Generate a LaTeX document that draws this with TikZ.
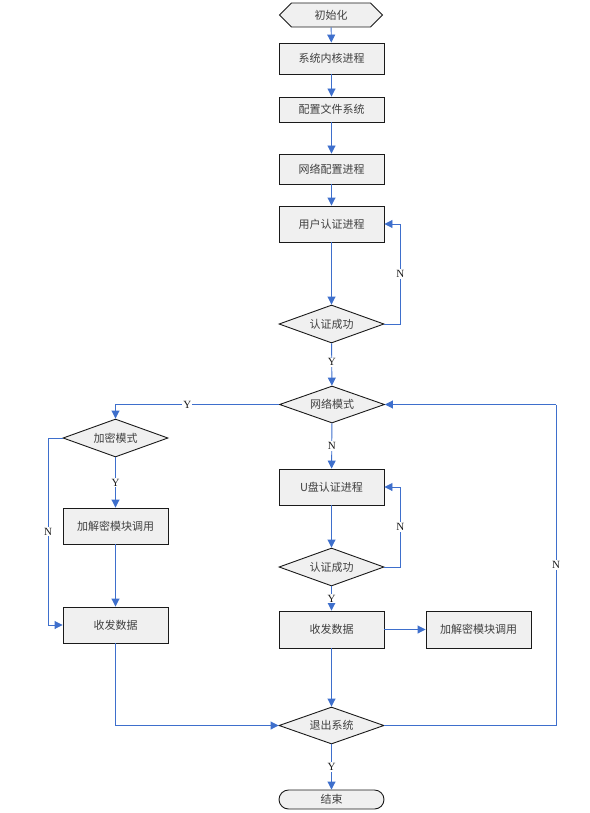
\documentclass[tikz,border=0pt]{standalone}
\usepackage{fontspec}
\setmainfont{Liberation Serif}
\newfontfamily\cjk{Noto Sans CJK SC}
\usepackage{tikz}
\definecolor{ink}{HTML}{1A1A1A}
\definecolor{txt}{HTML}{404040}
\definecolor{flowblue}{HTML}{3E6FCC}
\definecolor{boxfill}{HTML}{F0F0F0}
\usetikzlibrary{
  arrows.meta,
  positioning,
  shapes.geometric,
  shapes.symbols
}
\tikzset{
  every picture/.style={line join=miter},
  every node/.style={font=\fontsize{11}{12}\selectfont, text=txt},
  proc/.style={
    draw=ink,
    fill=boxfill,
    line width=0.9pt,
    minimum width=105pt,
    minimum height=32pt,
    inner sep=0pt,
    font=\cjk\fontsize{11}{12}\selectfont
  },
  decide/.style={
    diamond,
    aspect=2.76,
    draw=ink,
    fill=boxfill,
    line width=0.9pt,
    minimum width=105pt,
    minimum height=38pt,
    inner sep=0pt,
    font=\cjk\fontsize{11}{12}\selectfont
  },
  startnode/.style={
    signal,
    signal to=east and west,
    signal pointer angle=90,
    draw=ink,
    fill=boxfill,
    line width=0.9pt,
    minimum width=103pt,
    minimum height=24pt,
    inner sep=0pt,
    font=\cjk\fontsize{11}{12}\selectfont
  },
  endnode/.style={
    rounded rectangle,
    draw=ink,
    fill=boxfill,
    line width=0.9pt,
    minimum width=105pt,
    minimum height=19pt,
    inner sep=0pt,
    font=\cjk\fontsize{11}{12}\selectfont
  },
  flow/.style={draw=flowblue, line width=0.9pt, -{Triangle[length=8pt,width=8pt]}},
  line/.style={draw=flowblue, line width=0.9pt},
  lbl/.style={fill=white, inner sep=1pt, font=\fontsize{11}{12}\selectfont, text=ink}
}
\usetikzlibrary{shapes.misc}

\begin{document}
\begin{tikzpicture}[x=1pt, y=-1pt]
  \useasboundingbox (0,0) rectangle (589,813);

  % Main column
  \node[startnode] (init) at (331,15) {初始化};
  \node[proc, minimum height=31pt] (kernel) at (331.5,58.5) {系统内核进程};
  \node[proc, minimum height=25pt] (fs) at (331.5,109.5) {配置文件系统};
  \node[proc, minimum height=30pt] (netcfg) at (331.5,169) {网络配置进程};
  \node[proc, minimum height=36pt] (user) at (331.5,224) {用户认证进程};
  \node[decide] (ok1) at (331.5,324) {认证成功};
  \node[decide, minimum height=37pt] (net) at (332,404.5) {网络模式};

  % Left branch
  \node[decide, minimum height=38pt] (enc) at (115.5,438) {加密模式};
  \node[proc, minimum height=36pt] (crypt1) at (115.5,526) {加解密模块调用};
  \node[proc, minimum height=36pt] (send1) at (115.5,625) {收发数据};

  % Right branch
  \node[proc, minimum height=36pt] (ukey) at (331.5,487) {U盘认证进程};
  \node[decide] (ok2) at (331.5,567) {认证成功};
  \node[proc, minimum height=37pt] (send2) at (331.5,629.5) {收发数据};
  \node[proc, minimum height=37pt] (crypt2) at (478.5,629.5) {加解密模块调用};

  % Exit
  \node[decide, minimum height=37pt] (exit) at (331.5,725.5) {退出系统};
  \node[endnode] (fin) at (331.5,799.5) {结束};

  \coordinate (lloop) at (48,438);
  \coordinate (rloop) at (556,404.5);

  % Connectors
  \draw[flow] (init) -- (kernel);
  \draw[flow] (kernel) -- (fs);
  \draw[flow] (fs) -- (netcfg);
  \draw[flow] (netcfg) -- (user);
  \draw[flow] (user) -- (ok1);
  \draw[flow] (ok1.east) -- ++(16,0) |- node[lbl, pos=0.25] {N} (user.east);
  \draw[flow] (ok1) -- node[lbl, pos=0.45] {Y} (net);

  \draw[flow] (net.west) -| node[lbl, pos=0.28] {Y} (enc.north);
  \draw[flow] (enc) -- node[lbl] {Y} (crypt1);
  \draw[flow] (crypt1) -- (send1);
  \draw[line] (enc.west) -- (lloop);
  \draw[flow] (lloop) |- node[lbl, pos=0.25] {N} (send1.west);
  \draw[flow] (send1.south) |- (exit.west);

  \draw[flow] (net) -- node[lbl] {N} (ukey);
  \draw[flow] (ukey) -- (ok2);
  \draw[flow] (ok2.east) -- ++(16,0) |- node[lbl, pos=0.25] {N} (ukey.east);
  \draw[flow] (ok2) -- node[lbl] {Y} (send2);
  \draw[flow] (send2) -- (crypt2);
  \draw[flow] (send2) -- (exit);

  \draw[line] (exit.east) -| node[lbl, pos=0.75] {N} (rloop);
  \draw[flow] (rloop) -- (net.east);
  \draw[flow] (exit) -- node[lbl] {Y} (fin);
\end{tikzpicture}
\end{document}
